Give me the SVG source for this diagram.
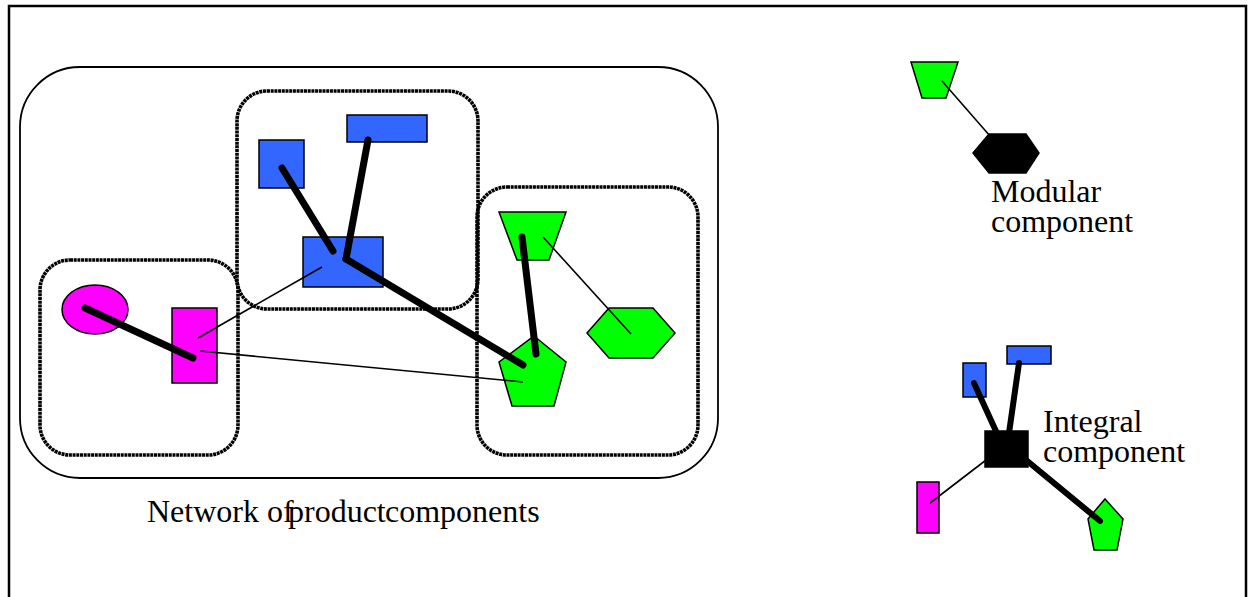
<svg xmlns="http://www.w3.org/2000/svg" width="1252" height="597" viewBox="0 0 1252 597">
<style>
.frame{fill:none;stroke:#000;stroke-width:2.5}
.outer{fill:none;stroke:#000;stroke-width:1.8}
.group{fill:none;stroke:#000;stroke-width:3.6;stroke-dasharray:3 0.7}
.blue{fill:#3366FF;stroke:#000;stroke-width:1.5}
.pink{fill:#FF00FF;stroke:#000;stroke-width:1.5}
.green{fill:#00FF00;stroke:#000;stroke-width:1.5}
.black{fill:#000;stroke:#000;stroke-width:1.5}
.thick{stroke:#000;stroke-width:7;stroke-linecap:round;fill:none}
.thick2{stroke:#000;stroke-width:6;stroke-linecap:round;fill:none}
.thin{stroke:#000;stroke-width:1.6;fill:none}
text{font-family:"Liberation Serif","Times New Roman",serif;font-size:32px;fill:#000}
</style>
<rect class="frame" x="9" y="6" width="1237" height="610"/>
<g id="network">
<rect class="outer" x="20" y="67" width="698" height="411" rx="60" ry="60"/>
</g>
<g id="group-pink"><rect class="group" x="40" y="260" width="198" height="195" rx="30" ry="30"/></g>
<g id="group-blue"><rect class="group" x="237" y="91" width="241" height="218" rx="30" ry="30"/></g>
<g id="group-green"><rect class="group" x="477" y="187" width="221" height="268" rx="30" ry="30"/></g>

<g id="pink-ellipse"><ellipse class="pink" cx="95" cy="309.5" rx="33" ry="24.5"/></g>
<g id="pink-rect"><rect class="pink" x="172" y="308" width="45" height="75"/></g>
<g id="blue-square"><rect class="blue" x="259" y="140" width="45" height="48"/></g>
<g id="blue-wide"><rect class="blue" x="347" y="115" width="80" height="27"/></g>
<g id="blue-center"><rect class="blue" x="303" y="237" width="80" height="50"/></g>
<g id="green-trapezoid"><polygon class="green" points="499,212 566,212 549,260 517,260"/></g>
<g id="green-pentagon"><polygon class="green" points="534,336 566,362 554,406 512,406 499,362"/></g>
<g id="green-hexagon"><polygon class="green" points="587,333 609,308 653,308 675,333 653,358 609,358"/></g>

<g id="mod-trapezoid"><polygon class="green" points="911,62 958,62 946,98 922,98"/></g>
<g id="mod-hexagon"><polygon class="black" points="973,153 989,134 1026,134 1039,153 1026,173 989,173"/></g>

<g id="int-blue-small"><rect class="blue" x="963" y="363" width="23" height="34"/></g>
<g id="int-blue-wide"><rect class="blue" x="1007" y="346" width="44" height="18"/></g>
<g id="int-pink"><rect class="pink" x="917" y="482" width="22" height="51"/></g>
<g id="int-pentagon"><polygon class="green" points="1105,499 1123,519 1117,550 1094,550 1088,519"/></g>

<g id="connectors">
<line class="thick" x1="85" y1="308" x2="193" y2="358"/>
<line class="thick" x1="282" y1="168" x2="333" y2="251"/>
<line class="thick" x1="368" y1="140" x2="346" y2="259"/>
<line class="thick" x1="346" y1="259" x2="523" y2="365"/>
<line class="thick" x1="522" y1="237" x2="536" y2="354"/>
<line class="thin" x1="198" y1="338" x2="322" y2="267"/>
<line class="thin" x1="200" y1="351" x2="523" y2="382"/>
<line class="thin" x1="543" y1="237" x2="631" y2="334"/>
<line class="thin" x1="942" y1="81" x2="990" y2="136"/>
<line class="thick2" x1="974" y1="383" x2="1000" y2="440"/>
<line class="thick2" x1="1019" y1="363" x2="1008" y2="440"/>
<line class="thin" x1="930" y1="503" x2="990" y2="457"/>
<line class="thick2" x1="1020" y1="455" x2="1100" y2="521"/>
</g>
<g id="int-square"><rect class="black" x="985" y="431" width="43" height="36"/></g>

<g id="labels">
<text x="991" y="202">Modular</text>
<text x="991" y="232">component</text>
<text x="1043" y="432">Integral</text>
<text x="1043" y="462">component</text>
<text x="147" y="522">Network of</text>
<text x="288" y="522">product</text>
<text x="385" y="522">components</text>
</g>
</svg>
